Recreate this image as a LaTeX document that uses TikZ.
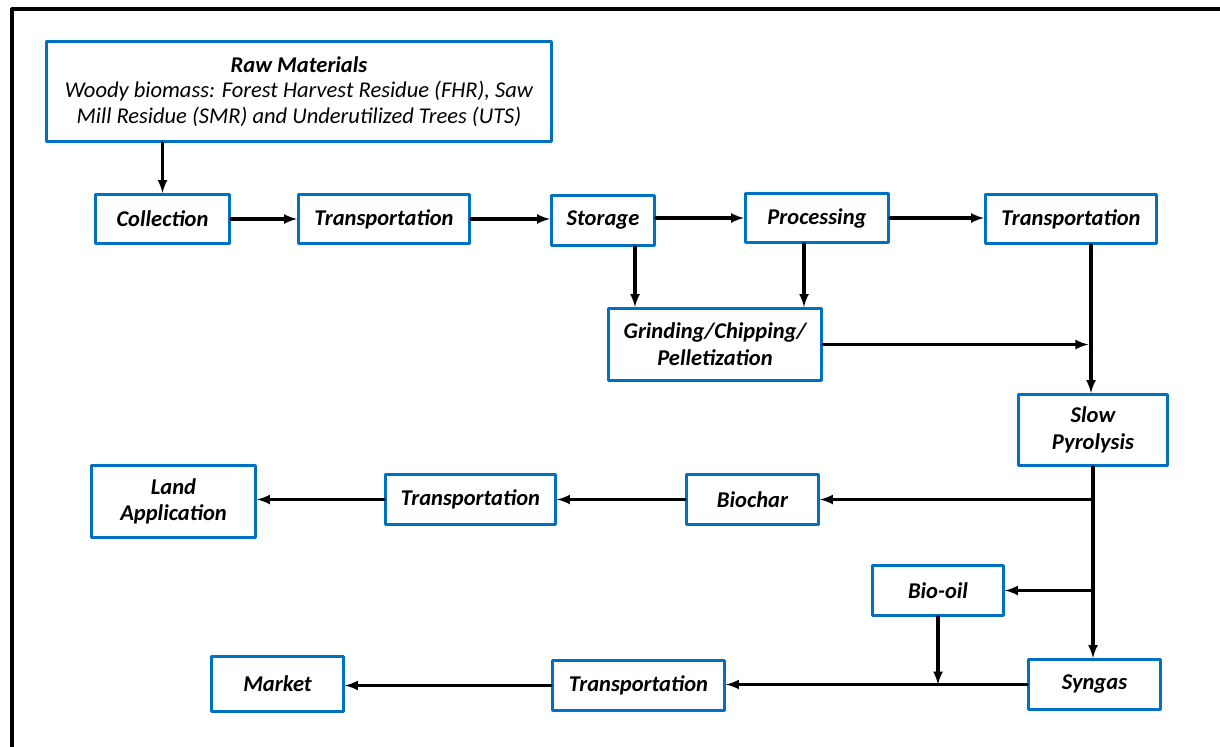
\documentclass[tikz,border=0pt]{standalone}
\usepackage{fontspec}
\setmainfont{Carlito}
\usepackage{tikz}
\usetikzlibrary{shapes,arrows}
\definecolor{boxblue}{RGB}{0,112,192}

\begin{document}
\begin{tikzpicture}
    [line cap=round,line join=round,x=0.75pt,y=-0.75pt,
     box/.style={draw=boxblue,line width=2.25pt,fill=white,align=center,inner sep=2pt,
                 font=\fontsize{16.9}{20}\selectfont\bfseries\itshape},
     arr/.style={-latex,line width=2.3pt}]
%outer frame
\useasboundingbox (0,0) rectangle (1220,746);
\draw[line width=2.4pt] (12,9) rectangle (1240,770);

%supply chain, top row
\node[box,minimum width=378.75pt,minimum height=75pt,font=\fontsize{16.9}{19}\selectfont\itshape]
   (raw) at (299,91.5) {\bfseries Raw Materials\\Woody biomass: Forest Harvest Residue (FHR), Saw\\Mill Residue (SMR) and Underutilized Trees (UTS)};
\node[box,minimum width=100.5pt,minimum height=36.75pt] (coll) at (162.5,219) {Collection};
\node[box,minimum width=128.25pt,minimum height=36.75pt] (trans1) at (384,219) {Transportation};
\node[box,minimum width=77.25pt,minimum height=37.5pt] (stor) at (603,220.5) {Storage};
\node[box,minimum width=107.25pt,minimum height=36.75pt] (proc) at (817,218) {Processing};
\node[box,minimum width=128.25pt,minimum height=36.75pt] (trans2) at (1071,219) {Transportation};
\node[box,minimum width=159.75pt,minimum height=54pt] (grind) at (715,344.5) {Grinding/Chipping/\\Pelletization};
\node[box,minimum width=111.75pt,minimum height=53.25pt] (pyro) at (1093,430) {Slow\\Pyrolysis};

%products
\node[box,minimum width=99pt,minimum height=37.5pt] (biochar) at (752.5,499.5) {Biochar};
\node[box,minimum width=127.5pt,minimum height=37.5pt] (trans3) at (470.5,499.5) {Transportation};
\node[box,minimum width=123pt,minimum height=54pt] (land) at (173.5,501.5) {Land\\Application};
\node[box,minimum width=98.25pt,minimum height=37.5pt] (biooil) at (938,590.5) {Bio-oil};
\node[box,minimum width=99pt,minimum height=37.5pt] (syngas) at (1094.5,684.5) {Syngas};
\node[box,minimum width=129pt,minimum height=37.5pt] (trans4) at (638.5,685.5) {Transportation};
\node[box,minimum width=99pt,minimum height=41.25pt] (market) at (277.5,684) {Market};

%drop points of the vertical arrows
\coordinate (xs) at (635,0);
\coordinate (xp) at (804,0);
\coordinate (xt) at (1091,0);

%arrows
\draw[arr] (coll.north |- raw.south) -- (coll.north);
\draw[arr] (coll.east) -- (trans1.west);
\draw[arr] (trans1.east) -- (trans1.east -| stor.west);
\draw[arr] (stor.east |- proc.west) -- (proc.west);
\draw[arr] (proc.east) -- (proc.east -| trans2.west);
\draw[arr] (xs |- stor.south) -- (xs |- grind.north);
\draw[arr] (xp |- proc.south) -- (xp |- grind.north);
\draw[arr] (xt |- trans2.south) -- (xt |- pyro.north);
\draw[arr,shorten >=2pt] (grind.east) -- (grind.east -| xt);
\draw[arr] (pyro.south) -- (pyro.south |- syngas.north);
\draw[arr] (pyro.south |- biochar.east) -- (biochar.east);
\draw[arr] (pyro.south |- biooil.east) -- (biooil.east);
\draw[arr] (biochar.west) -- (biochar.west -| trans3.east);
\draw[arr] (trans3.west) -- (trans3.west -| land.east);
\draw[arr] (syngas.west) -- (syngas.west -| trans4.east);
\draw[arr] (biooil.south) -- (biooil.south |- syngas.west);
\draw[arr] (trans4.west) -- (trans4.west -| market.east);
\end{tikzpicture}
\end{document}
